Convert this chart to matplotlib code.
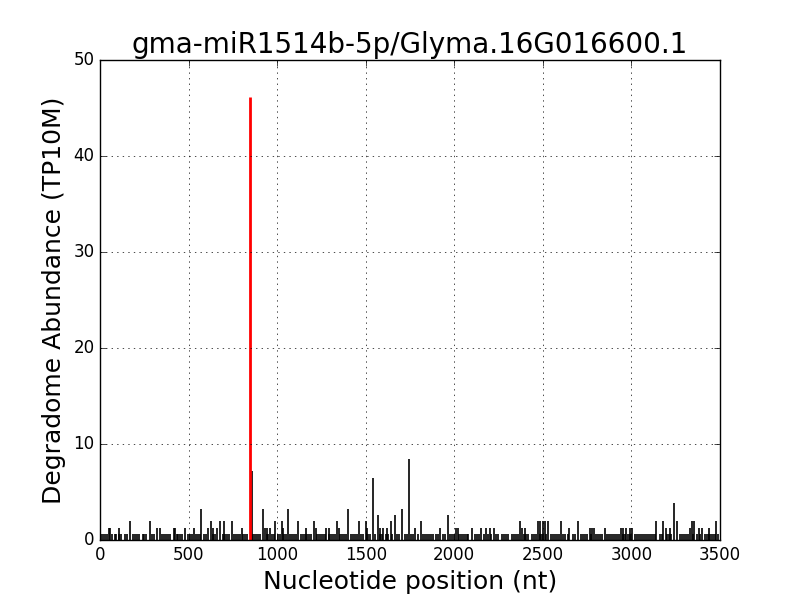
import matplotlib
matplotlib.use('Agg')
import matplotlib.pyplot as plt

# ----------------------------------------------------------------------
#   Data (TP10M abundance per nucleotide position)
# ----------------------------------------------------------------------

title = 'gma-miR1514b-5p/Glyma.16G016600.1'

# single-read background tags (0.65 TP10M)
base_pos = [5, 16, 27, 38, 70, 82, 93, 110, 121, 140, 152, 185, 196, 207, 218, 240, 251, 262,
            295, 306, 350, 361, 372, 383, 394, 432, 443, 454, 465, 497, 508, 519, 541, 552, 563,
            585, 596, 640, 651, 695, 706, 717, 728, 755, 766, 777, 788, 810, 821, 832, 860, 871,
            882, 893, 904, 940, 951, 970, 981, 1005, 1016, 1040, 1051, 1075, 1086, 1097, 1108,
            1135, 1146, 1157, 1168, 1179, 1190, 1225, 1236, 1247, 1258, 1269, 1295, 1306, 1317,
            1328, 1355, 1366, 1377, 1388, 1415, 1426, 1437, 1448, 1475, 1486, 1512, 1523, 1555,
            1582, 1593, 1615, 1626, 1650, 1675, 1686, 1720, 1731, 1755, 1766, 1795, 1825, 1836,
            1847, 1858, 1869, 1880, 1895, 1906, 1935, 1946, 1975, 1986, 1997, 2025, 2036, 2047,
            2058, 2069, 2080, 2115, 2126, 2137, 2165, 2190, 2210, 2235, 2246, 2270, 2281, 2292,
            2303, 2325, 2336, 2347, 2358, 2395, 2406, 2417, 2440, 2451, 2462, 2485, 2496, 2515,
            2545, 2556, 2567, 2578, 2589, 2615, 2626, 2640, 2672, 2683, 2715, 2726, 2737, 2748,
            2770, 2800, 2811, 2822, 2833, 2862, 2873, 2884, 2895, 2906, 2917, 2928, 2950, 2961,
            2980, 2991, 3020, 3031, 3042, 3053, 3064, 3075, 3086, 3097, 3108, 3120, 3131, 3160,
            3171, 3200, 3211, 3222, 3275, 3286, 3297, 3308, 3319, 3345, 3370, 3385, 3415, 3426,
            3437, 3448, 3459, 3470, 3490]
base_val = 0.65

# multi-read tags
peak_pos = [52, 58, 105, 170, 280, 322, 340, 420, 425, 478, 530, 570, 612, 625, 640, 660, 675,
            700, 745, 800, 857, 920, 930, 945, 960, 990, 1025, 1035, 1062, 1120, 1165, 1210,
            1220, 1275, 1290, 1340, 1350, 1400, 1460, 1500, 1510, 1542, 1570, 1580, 1600, 1620,
            1642, 1665, 1703, 1742, 1780, 1810, 1920, 1965, 2010, 2020, 2100, 2150, 2180, 2200,
            2225, 2372, 2380, 2400, 2470, 2485, 2500, 2510, 2530, 2600, 2650, 2700, 2765, 2780,
            2790, 2850, 2940, 2955, 2970, 2990, 3005, 3140, 3180, 3195, 3220, 3242, 3255, 3330,
            3340, 3355, 3380, 3400, 3440, 3480]
peak_val = [1.3, 1.3, 1.3, 1.95, 1.95, 1.3, 1.3, 1.3, 1.3, 1.3, 1.3, 3.25, 1.3, 1.95, 1.3, 1.3,
            1.95, 1.95, 1.95, 1.3, 7.15, 3.25, 1.3, 1.3, 1.3, 1.95, 1.95, 1.3, 3.25, 1.95, 1.3,
            1.95, 1.3, 1.3, 1.3, 1.95, 1.3, 3.25, 1.95, 1.95, 1.3, 6.5, 2.6, 1.3, 1.3, 1.3, 1.95,
            2.6, 3.25, 8.45, 1.3, 1.95, 1.3, 2.6, 1.3, 1.3, 1.3, 1.3, 1.3, 1.3, 1.3, 1.95, 1.3,
            1.3, 1.95, 1.95, 1.95, 1.95, 1.95, 1.95, 1.3, 1.95, 1.3, 1.3, 1.3, 1.3, 1.3, 1.3, 1.3,
            1.3, 1.3, 1.95, 1.95, 1.3, 1.3, 3.9, 1.95, 1.3, 1.95, 1.95, 1.3, 1.3, 1.3, 1.95]

# predicted cleavage site
site_pos = 847
site_val = 46.15

# ----------------------------------------------------------------------
#   Plot
# ----------------------------------------------------------------------

plt.style.use('classic')
fig = plt.figure(figsize=(8, 6), dpi=100, facecolor='white')
ax = fig.add_axes([0.125, 0.1, 0.775, 0.8])

ax.vlines(base_pos, 0, base_val, color='black', linewidth=1.2)
ax.vlines(peak_pos, 0, peak_val, color='black', linewidth=1.2)
ax.vlines([site_pos], 0, [site_val], color='red', linewidth=2)

ax.set_xlim(0, 3500)
ax.set_ylim(0, 50)
ax.set_xticks(range(0, 3501, 500))
ax.set_yticks(range(0, 51, 10))
ax.grid(True)
ax.tick_params(labelsize=12)

ax.set_title(title, fontsize=20)
ax.set_xlabel('Nucleotide position (nt)', fontsize=18)
ax.set_ylabel('Degradome Abundance (TP10M)', fontsize=18)

fig.savefig('out.png', dpi=100, facecolor='white')
